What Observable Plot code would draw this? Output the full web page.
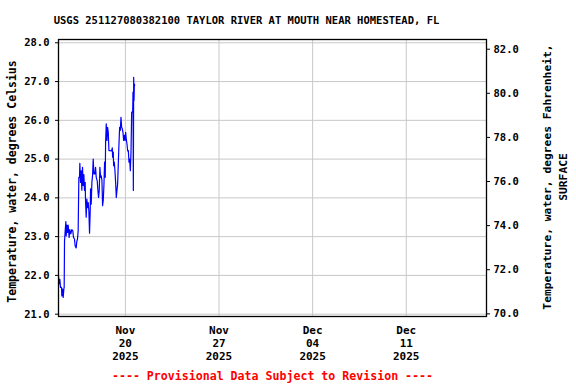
<!DOCTYPE html>
<html><head><meta charset="utf-8">
<script src="https://cdn.jsdelivr.net/npm/d3@7"></script>
<script src="https://cdn.jsdelivr.net/npm/@observablehq/plot@0.6"></script>
<style>body{margin:0;background:#fff}#chart svg{display:block}</style>
</head><body><div id="chart"></div>
<script>
// ---- data ----
const titleText = "USGS 251127080382100 TAYLOR RIVER AT MOUTH NEAR HOMESTEAD, FL";
const leftLabel = "Temperature, water, degrees Celsius";
const rightLabel1 = "Temperature, water, degrees Fahrenheit,";
const rightLabel2 = "SURFACE";
const footerText = "---- Provisional Data Subject to Revision ----";
const seriesStart = "2025-11-15T00:00:00Z";
const hoursFromStart = [0,1.2,2.4,3.6,5.4,6.0,7.2,8.4,9.6,10.2,10.8,12.0,13.2,13.8,15.0,16.1,17.3,19.1,20.3,22.1,23.9,25.7,26.9,28.7,29.9,31.7,32.9,34.1,35.3,36.5,37.7,38.3,39.5,40.7,41.9,43.1,44.3,45.5,46.7,47.9,48.5,49.7,50.9,52.1,53.3,54.5,55.7,56.9,57.5,58.7,59.9,61.1,62.3,63.5,65.3,66.5,67.7,69.5,70.7,71.9,73.1,74.3,75.5,76.7,77.9,79.1,80.3,81.5,82.7,83.9,84.5,85.7,86.9,88.1,89.3,90.5,92.9,95.3,96.5,97.1,98.3,98.9,100.1,101.3,102.5,103.7,104.9,106.1,107.3,108.5,109.7,110.9,112.1,113.3,114.5,115.7,116.9,118.1,119.3,120.5,121.7,122.9,124.1,125.3,126.5,127.7,128.9,130.1,131.3,133.1,133.7,134.3,134.9,135.5,136.1,136.7];
const tempC = [21.99,21.78,21.90,21.69,21.69,21.47,21.65,21.43,21.65,21.69,22.88,23.15,23.39,23.02,23.30,23.11,23.30,22.98,23.18,23.07,23.18,23.15,22.98,22.94,22.76,22.71,22.88,22.94,23.15,24.53,24.53,24.89,24.40,24.70,24.20,24.79,24.32,24.60,24.19,24.40,23.93,23.50,23.97,23.75,23.88,23.67,23.09,23.67,24.23,23.84,24.40,24.57,25.00,24.62,24.62,24.79,24.53,24.44,24.19,24.01,24.19,24.79,24.53,24.57,24.46,23.80,23.93,24.32,24.92,24.53,25.43,25.91,25.48,25.82,25.69,25.22,25.22,25.21,25.29,25.05,25.18,24.83,24.92,24.70,24.40,24.01,24.19,24.36,24.88,25.39,25.82,25.74,26.08,25.82,25.78,25.69,25.48,25.61,25.48,25.69,25.50,25.39,25.21,25.22,24.92,25.00,24.70,25.18,26.21,26.21,26.73,24.19,27.11,26.51,26.94,26.90];
const xTickDates = ["2025-11-20","2025-11-27","2025-12-04","2025-12-11"];
const xDomain = ["2025-11-15","2025-12-17"];
const celsiusTicks = [21,22,23,24,25,26,27,28];
const fahrenheitTicks = [70,72,74,76,78,80,82];
const celsiusDomain = [20.94, 28.085];
const fahrenheitDomain = [69.88, 82.44]; // right axis range as drawn

// ---- build ----
const t0 = new Date(seriesStart).getTime();
const data = hoursFromStart.map((h, i) => ({date: new Date(t0 + h * 3600e3), temp: tempC[i]}));
const xTicks = xTickDates.map(d => new Date(d + "T00:00:00Z"));
const f2c = d3.scaleLinear().domain(fahrenheitDomain).range(celsiusDomain);
const c2f = f2c.copy().domain(celsiusDomain).range(fahrenheitDomain);

const chart = Plot.plot({
  width: 576, height: 384,
  marginLeft: 58, marginRight: 90, marginTop: 39, marginBottom: 68,
  style: {fontFamily: "'DejaVu Sans Mono', monospace", fontWeight: "bold", fontSize: "10.5px", background: "#fff", color: "#000", overflow: "visible"},
  x: {type: "utc", domain: xDomain.map(d => new Date(d + "T00:00:00Z")), axis: null},
  y: {domain: celsiusDomain, axis: null},
  marks: [
    Plot.gridX(xTicks, {stroke: "#c8c8c8", strokeOpacity: 1}),
    Plot.gridY(celsiusTicks, {stroke: "#c8c8c8", strokeOpacity: 1}),
    Plot.line(data, {x: "date", y: "temp", stroke: "#0000ff", strokeWidth: 1.2}),
    Plot.frame({stroke: "#000", strokeWidth: 1.3}),
    Plot.axisY(celsiusTicks, {anchor: "left", tickSize: 3, tickPadding: 6, label: null, tickFormat: d => d.toFixed(1)}),
    Plot.axisY(fahrenheitTicks.map(f => f2c(f)), {anchor: "right", tickSize: 3, tickPadding: 4, label: null, tickFormat: c => c2f(c).toFixed(1)}),
    Plot.axisX(xTicks, {anchor: "bottom", tickSize: 0, tickPadding: 9, label: null, tickFormat: d3.utcFormat("%b\n%d\n%Y"), fontSize: 11, lineHeight: 1.15}),
    Plot.text([titleText], {text: d => d, frameAnchor: "top-left", dx: 188, dy: -19, textAnchor: "middle", lineAnchor: "middle", fontSize: 10.5}),
    Plot.text([leftLabel], {text: d => d, frameAnchor: "left", dx: -46.5, dy: 3.5, rotate: -90, textAnchor: "middle", lineAnchor: "middle", fontSize: 11.5}),
    Plot.text([rightLabel1], {text: d => d, frameAnchor: "right", dx: 60.7, dy: -1, rotate: -90, textAnchor: "middle", lineAnchor: "middle", fontSize: 11.3}),
    Plot.text([rightLabel2], {text: d => d, frameAnchor: "right", dx: 77, dy: -1, rotate: -90, textAnchor: "middle", lineAnchor: "middle", fontSize: 11.3}),
    Plot.text([footerText], {text: d => d, frameAnchor: "bottom", dx: 0, dy: 59.3, textAnchor: "middle", lineAnchor: "middle", fontSize: 11.6, fill: "#ff0000"})
  ]
});
document.getElementById("chart").append(chart);
</script>
</body></html>
